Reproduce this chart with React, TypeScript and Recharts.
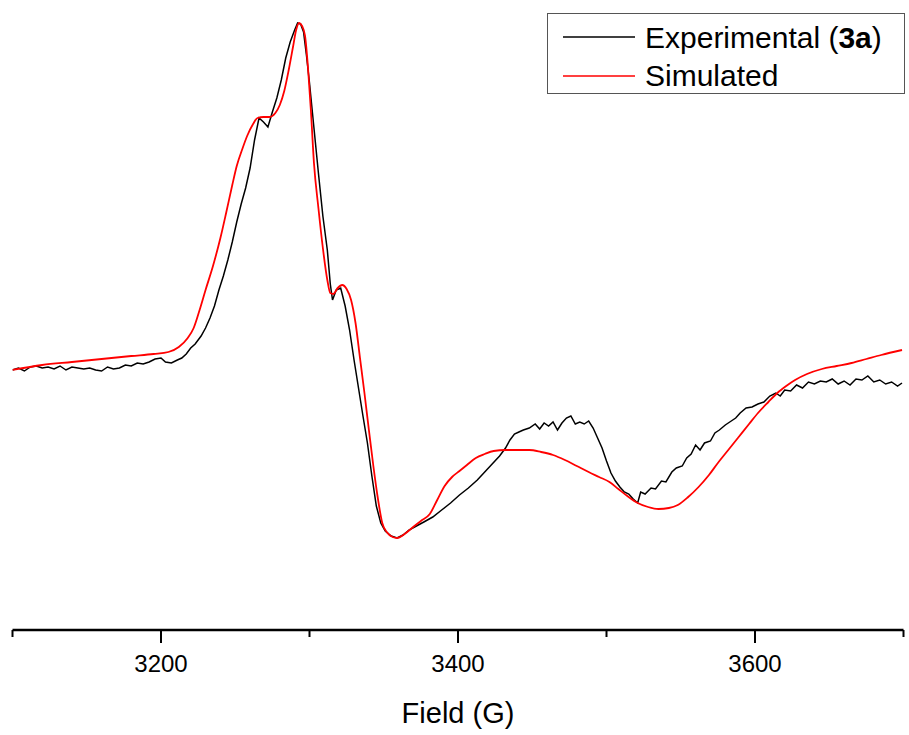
import { LineChart, Line, XAxis, YAxis } from "recharts";

// field (G), signal (a.u.)
const experimental: [number, number][] = [
  [3100, -2], [3104, 0], [3108, -3], [3112, 1], [3116, 2], [3120, 0], [3124, 1], [3128, -1],
  [3132, 2], [3136, -2], [3140, 1], [3144, 0], [3148, -1], [3152, 0], [3156, -2], [3160, -3],
  [3164, 1], [3168, -1], [3172, 0], [3176, 3], [3180, 2], [3184, 5], [3188, 4], [3192, 6],
  [3196, 9], [3200, 10], [3203, 6], [3207, 5], [3211, 8], [3214, 10], [3217, 14], [3220, 20],
  [3223, 24], [3227, 32], [3230, 40], [3233, 50], [3236, 62], [3239, 78], [3242, 92], [3245, 108],
  [3248, 126], [3251, 146], [3254, 164], [3257, 180], [3260, 200], [3263, 228], [3266, 250], [3269, 246],
  [3272, 241], [3275, 256], [3278, 270], [3281, 288], [3284, 310], [3287, 326], [3290, 338], [3292, 345],
  [3294, 344], [3296, 336], [3298, 312], [3300, 285], [3303, 240], [3306, 195], [3309, 152], [3312, 118],
  [3314, 84], [3315.5, 68], [3318, 78], [3321, 80], [3324, 62], [3327, 38], [3330, 8], [3333, -20],
  [3336, -48], [3339, -75], [3342, -108], [3345, -138], [3348, -155], [3351, -163], [3355, -168], [3359, -170],
  [3363, -167], [3367, -162], [3372, -158], [3377, -154], [3383, -149], [3389, -142], [3395, -135], [3401, -127],
  [3407, -120], [3413, -112], [3418, -104], [3423, -96], [3428, -88], [3432, -80], [3435, -72], [3438, -66],
  [3441, -64], [3444, -62], [3448, -60], [3452, -56], [3455, -61], [3458, -55], [3461, -58], [3464, -54],
  [3467, -62], [3470, -55], [3473, -50], [3476, -48], [3479, -56], [3482, -54], [3485, -56], [3488, -53],
  [3491, -60], [3494, -70], [3497, -80], [3500, -93], [3503, -105], [3506, -113], [3509, -119], [3512, -124],
  [3515, -126], [3518, -131], [3521, -135], [3523, -124], [3526, -126], [3530, -120], [3533, -121], [3537, -113],
  [3540, -114], [3544, -104], [3547, -100], [3551, -98], [3554, -90], [3557, -86], [3560, -77], [3563, -82],
  [3566, -75], [3570, -73], [3573, -65], [3576, -62], [3580, -57], [3583, -54], [3587, -50], [3590, -45],
  [3594, -40], [3598, -39], [3602, -36], [3606, -34], [3610, -28], [3614, -25], [3617, -28], [3620, -22],
  [3624, -23], [3628, -17], [3632, -20], [3636, -14], [3640, -16], [3644, -13], [3648, -14], [3652, -11],
  [3656, -16], [3660, -13], [3664, -17], [3668, -11], [3672, -12], [3676, -8], [3680, -14], [3684, -12],
  [3688, -16], [3692, -14], [3696, -18], [3699, -15],
];

const simulated: [number, number][] = [
  [3100, -2], [3120, 3], [3140, 6], [3160, 9], [3180, 12], [3195, 14], [3205, 16], [3212, 21],
  [3218, 30], [3222, 40], [3226, 58], [3230, 78], [3235, 102], [3240, 130], [3244, 156], [3248, 183],
  [3251, 202], [3255, 220], [3258, 232], [3262, 244], [3265, 250], [3269, 251], [3273, 251], [3277, 255],
  [3280, 263], [3283, 277], [3286, 298], [3289, 322], [3291, 338], [3293, 345], [3295, 342], [3297, 332],
  [3299, 300], [3301, 256], [3303, 205], [3306, 160], [3309, 120], [3312, 88], [3314, 75], [3316, 74],
  [3319, 80], [3322, 83], [3325, 79], [3328, 68], [3331, 45], [3334, 10], [3337, -25], [3340, -62],
  [3343, -98], [3346, -130], [3349, -155], [3352, -164], [3356, -169], [3359, -170], [3364, -166], [3369, -160],
  [3375, -153], [3381, -146], [3386, -132], [3391, -118], [3396, -109], [3401, -103], [3406, -97], [3412, -90],
  [3418, -86], [3424, -83], [3432, -82], [3440, -82], [3448, -82], [3456, -84], [3464, -87], [3472, -92],
  [3480, -98], [3488, -104], [3495, -109], [3502, -114], [3508, -121], [3514, -128], [3521, -135], [3528, -139],
  [3535, -141], [3542, -140], [3548, -137], [3555, -129], [3562, -119], [3569, -107], [3575, -95], [3582, -82],
  [3589, -69], [3596, -56], [3602, -45], [3609, -34], [3615, -25], [3621, -18], [3627, -12], [3635, -6],
  [3645, -1], [3655, 2], [3665, 5], [3675, 9], [3685, 13], [3699, 18],
];

const xTicks = [3100, 3200, 3300, 3400, 3500, 3600, 3700];
const labelledTicks = [3200, 3400, 3600];

const FONT = "'Liberation Sans', Arial, sans-serif";

const toRows = (pts: [number, number][]) => pts.map(([field, signal]) => ({ field, signal }));

const FieldTick = ({ x, y, payload }: any) => {
  const major = labelledTicks.includes(payload.value);
  return (
    <g>
      <line x1={x} x2={x} y1={y} y2={y + (major ? 13 : 7)} stroke="#000" strokeWidth={2} />
      {major && (
        <text x={x} y={y + 42} textAnchor="middle" fontSize={24} fontFamily={FONT} fill="#000">
          {payload.value}
        </text>
      )}
    </g>
  );
};

const LegendBox = () => (
  <div
    style={{
      position: "absolute",
      left: 547,
      top: 13,
      width: 356,
      height: 79,
      border: "1px solid #555",
      background: "#fff",
      fontFamily: FONT,
      fontSize: 30,
      color: "#000",
    }}
  >
    <svg width={356} height={79} style={{ position: "absolute", left: 0, top: 0 }}>
      <line x1={15} x2={87} y1={23} y2={23} stroke="#000" strokeWidth={1.5} />
      <line x1={15} x2={87} y1={62} y2={62} stroke="#ff0000" strokeWidth={1.5} />
      <text x={97} y={34} fontSize={30} fontFamily={FONT}>
        Experimental (<tspan fontWeight="bold">3a</tspan>)
      </text>
      <text x={97} y={72} fontSize={30} fontFamily={FONT}>
        Simulated
      </text>
    </svg>
  </div>
);

export default function App() {
  return (
    <div style={{ position: "absolute", left: 0, top: 0, width: 909, height: 735, background: "#fff" }}>
      <LineChart width={909} height={735} margin={{ top: 10, right: 5.5, left: 12.5, bottom: 0 }}>
        <YAxis hide type="number" domain={[-262, 358]} allowDataOverflow />
        <XAxis
          type="number"
          dataKey="field"
          domain={[3100, 3700]}
          ticks={xTicks}
          allowDataOverflow
          height={105}
          tickSize={0}
          tickMargin={0}
          tickLine={false}
          interval={0}
          axisLine={{ stroke: "#000", strokeWidth: 2.5 }}
          tick={<FieldTick />}
          label={{
            value: "Field (G)",
            position: "insideBottom",
            offset: 12,
            fontSize: 29,
            fontFamily: FONT,
            fill: "#000",
          }}
        />
        <Line
          data={toRows(experimental)}
          dataKey="signal"
          type="linear"
          stroke="#000"
          strokeWidth={1.5}
          dot={false}
          isAnimationActive={false}
        />
        <Line
          data={toRows(simulated)}
          dataKey="signal"
          type="monotone"
          stroke="#ff0000"
          strokeWidth={1.8}
          dot={false}
          isAnimationActive={false}
        />
      </LineChart>
      <LegendBox />
    </div>
  );
}
